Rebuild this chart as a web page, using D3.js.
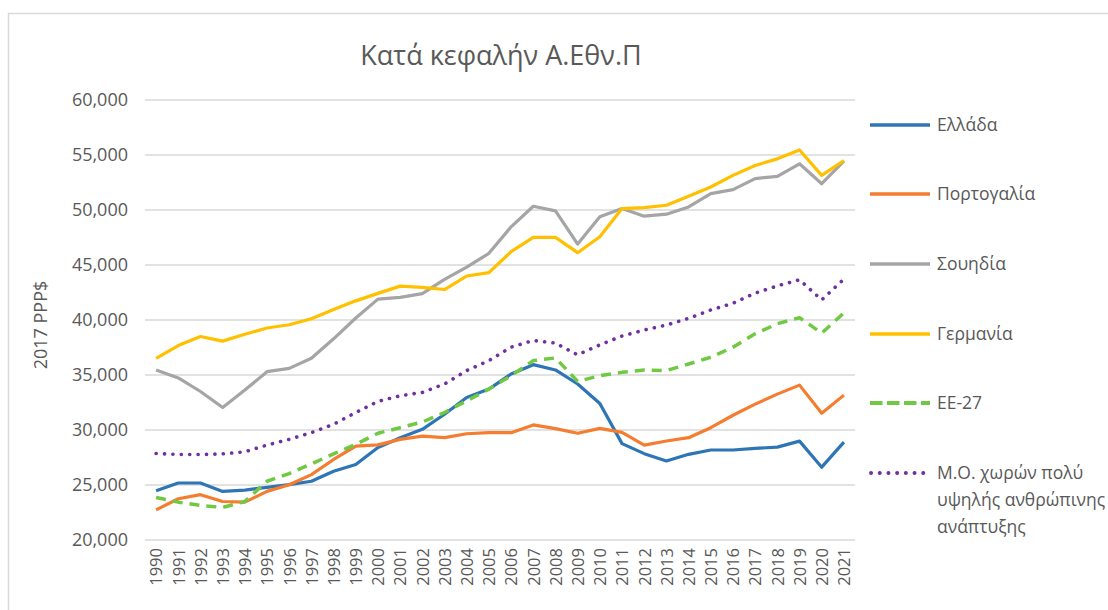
<!DOCTYPE html>
<html lang="el">
<head>
<meta charset="UTF-8">
<title>Κατά κεφαλήν Α.Εθν.Π</title>
<style>
    body {
        margin: 0;
        background-color: #ffffff;
        font-family: "Open Sans", "Noto Sans", sans-serif;
    }
    svg {
        display: block;
    }
    .grid line {
        stroke: #d9d9d9;
        stroke-width: 1.3px;
    }
    .tick text {
        fill: #595959;
    }
</style>
</head>
<body>
<script src="https://cdnjs.cloudflare.com/ajax/libs/d3/7.8.5/d3.min.js"></script>
<script>
    var years = ["1990","1991","1992","1993","1994","1995","1996","1997","1998","1999","2000",
        "2001","2002","2003","2004","2005","2006","2007","2008","2009","2010",
        "2011","2012","2013","2014","2015","2016","2017","2018","2019","2020","2021"];

    var yTicks = [20000, 25000, 30000, 35000, 40000, 45000, 50000, 55000, 60000];

    // values (2017 PPP$)
    var greece = [24480, 25180, 25180, 24420, 24540, 24790, 25030, 25340, 26250, 26860, 28400,
        29300, 30060, 31430, 32960, 33720, 35090, 35940, 35460, 34180, 32410,
        28760, 27850, 27180, 27790, 28180, 28180, 28330, 28440, 28990, 26620, 28900];

    var portugal = [22740, 23750, 24120, 23500, 23440, 24420, 25030, 25940, 27320, 28540, 28650,
        29150, 29450, 29300, 29660, 29760, 29760, 30460, 30120, 29700, 30150,
        29790, 28630, 29000, 29300, 30210, 31340, 32350, 33260, 34080, 31520, 33170];

    var sweden = [35450, 34730, 33500, 32040, 33630, 35300, 35600, 36520, 38290, 40180, 41900,
        42050, 42400, 43700, 44800, 46060, 48470, 50340, 49920, 46900, 49380,
        50130, 49440, 49620, 50280, 51490, 51850, 52850, 53060, 54200, 52390, 54450];

    var germany = [36520, 37680, 38500, 38080, 38700, 39270, 39570, 40120, 40950, 41740, 42420,
        43080, 42960, 42770, 44000, 44300, 46210, 47510, 47510, 46120, 47570,
        50130, 50220, 50430, 51250, 52090, 53150, 54050, 54650, 55460, 53150, 54500];

    var eu27 = [23870, 23440, 23140, 22960, 23500, 25340, 26040, 26920, 27830, 28690, 29700,
        30210, 30730, 31590, 32650, 33720, 34940, 36310, 36550, 34420, 34940,
        35240, 35460, 35400, 36000, 36610, 37530, 38750, 39660, 40210, 38810, 40640];

    var vhhd = [27870, 27770, 27770, 27830, 28020, 28630, 29150, 29760, 30520, 31590, 32600,
        33110, 33420, 34180, 35400, 36310, 37530, 38140, 37900, 36830, 37740,
        38540, 39090, 39540, 40150, 40910, 41520, 42440, 43100, 43660, 41830, 43720];

    var seriesNames = ["Ελλάδα", "Πορτογαλία", "Σουηδία", "Γερμανία", "ΕΕ-27",
        "Μ.Ο. χωρών πολύ υψηλής ανθρώπινης ανάπτυξης"];

    var series = [
        {name: seriesNames[0], values: greece, color: "#2e75b6", dash: null, width: 3.2},
        {name: seriesNames[1], values: portugal, color: "#f47d30", dash: null, width: 3.2},
        {name: seriesNames[2], values: sweden, color: "#a5a5a5", dash: null, width: 3.2},
        {name: seriesNames[3], values: germany, color: "#ffc000", dash: null, width: 3.2},
        {name: seriesNames[4], values: eu27, color: "#70c843", dash: "10,7", width: 3.5},
        {name: seriesNames[5], values: vhhd, color: "#7030a0", dash: "0.1,8.3", width: 3.6}
    ];

    var W = 1108, H = 610;
    var margin = {top: 100, right: 253, bottom: 70, left: 145};
    var width = W - margin.left - margin.right,
        height = H - margin.top - margin.bottom;

    var svg = d3.select("body").append("svg")
        .attr("width", W)
        .attr("height", H);

    // chart frame
    svg.append("rect")
        .attr("x", 8.5)
        .attr("y", 13.5)
        .attr("width", W + 20)
        .attr("height", H + 20)
        .attr("fill", "none")
        .attr("stroke", "#d9d9d9")
        .attr("stroke-width", 1.5);

    svg.append("text")
        .attr("x", 501)
        .attr("y", 65)
        .attr("text-anchor", "middle")
        .attr("font-size", "27px")
        .attr("fill", "#595959")
        .text("Κατά κεφαλήν Α.Εθν.Π");

    var g = svg.append("g")
        .attr("transform", "translate(" + margin.left + "," + margin.top + ")");

    var xScale = d3.scalePoint()
        .domain(years)
        .range([0, width])
        .padding(0.5);

    var yScale = d3.scaleLinear()
        .domain([20000, 60000])
        .range([height, 0]);

    // gridlines
    g.append("g")
        .attr("class", "grid")
        .selectAll("line")
        .data(yTicks)
        .enter().append("line")
        .attr("x1", 0)
        .attr("x2", width)
        .attr("y1", d => yScale(d))
        .attr("y2", d => yScale(d));

    var yAxis = d3.axisLeft(yScale)
        .tickValues(yTicks)
        .tickFormat(d3.format(","))
        .tickSize(0)
        .tickPadding(17);

    g.append("g")
        .call(yAxis)
        .call(a => a.select(".domain").remove())
        .selectAll("text")
        .attr("font-family", "Open Sans, sans-serif")
        .attr("font-size", "18px");

    var xAxis = d3.axisBottom(xScale)
        .tickSize(0)
        .tickPadding(0);

    g.append("g")
        .attr("transform", "translate(0," + height + ")")
        .call(xAxis)
        .call(a => a.select(".domain").remove())
        .selectAll("text")
        .attr("font-family", "Open Sans, sans-serif")
        .attr("font-size", "16.5px")
        .attr("text-anchor", "end")
        .attr("dy", "0.35em")
        .attr("transform", "translate(0,8) rotate(-90)")
        .attr("x", 0)
        .attr("y", 0);

    svg.append("text")
        .attr("transform", "translate(41," + (margin.top + height / 2 + 5) + ") rotate(-90)")
        .attr("text-anchor", "middle")
        .attr("dy", "0.35em")
        .attr("font-size", "18px")
        .attr("fill", "#595959")
        .text("2017 PPP$");

    var line = d3.line()
        .x((d, i) => xScale(years[i]))
        .y(d => yScale(d));

    series.forEach(function(s) {
        g.append("path")
            .datum(s.values)
            .attr("fill", "none")
            .attr("stroke", s.color)
            .attr("stroke-width", s.width)
            .attr("stroke-linejoin", "round")
            .attr("stroke-linecap", s.dash && s.dash.indexOf("0.1") === 0 ? "round" : "butt")
            .attr("stroke-dasharray", s.dash)
            .attr("d", line);
    });

    // legend
    var legendY = [125, 194, 264, 334, 403, 473];
    var legend = svg.append("g");
    series.forEach(function(s, i) {
        var dotted = s.dash && s.dash.indexOf("0.1") === 0;
        var row = legend.append("g")
            .attr("transform", "translate(0," + legendY[i] + ")");
        row.append("line")
            .attr("x1", dotted ? 871 : 870)
            .attr("x2", 930)
            .attr("stroke", s.color)
            .attr("stroke-width", s.width + 0.3)
            .attr("stroke-linecap", dotted ? "round" : "butt")
            .attr("stroke-dasharray", s.dash ? (dotted ? "0.1,8.6" : "12.5,4.5") : null);
        var lines = i === 5 ? ["Μ.Ο. χωρών πολύ", "υψηλής ανθρώπινης", "ανάπτυξης"] : [s.name];
        var t = row.append("text")
            .attr("x", 937)
            .attr("y", 0)
            .attr("font-size", "17.5px")
            .attr("fill", "#595959");
        lines.forEach(function(l, j) {
            t.append("tspan")
                .attr("x", 937)
                .attr("dy", j === 0 ? "0.35em" : "27px")
                .text(l);
        });
    });
</script>
</body>
</html>
